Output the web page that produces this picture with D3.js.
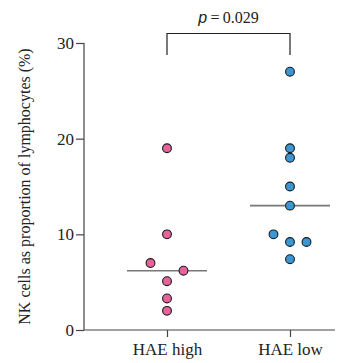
<!DOCTYPE html>
<html>
<head>
<meta charset="utf-8">
<script src="https://cdn.jsdelivr.net/npm/d3@7"></script>
<style>
  body { margin: 0; background: #fff; }
</style>
</head>
<body>
<div id="chart"></div>
<script>
const width = 364, height = 363;
const serif = "'Liberation Serif', 'Times New Roman', Times, serif";

// data
const groups = ["HAE high", "HAE low"];
const highValues = [19, 10, 7, 6.2, 5.1, 3.3, 2.0];
const highSide = [0, 0, -1, 1, 0, 0, 0];
const lowValues = [27, 19, 18, 15, 13, 10, 9.2, 9.2, 7.4];
const lowSide = [0, 0, 0, 0, 0, -1, 0, 1, 0];
const medians = [6.2, 13];
const yTicks = [0, 10, 20, 30];
const pLabel = "0.029";

const margin = {top: 43, right: 29, bottom: 33, left: 84};

const svg = d3.select("#chart").append("svg")
    .attr("width", width)
    .attr("height", height);

const y = d3.scaleLinear()
    .domain([0, 30])
    .range([height - margin.bottom, margin.top]);

const x = d3.scalePoint()
    .domain(groups)
    .range([margin.left + 83, width - margin.right - 45]);

const colors = {"HAE high": "#e4639b", "HAE low": "#3b97d3"};

// axes
const yAxis = svg.append("g")
    .attr("transform", `translate(${margin.left},0)`)
    .call(d3.axisLeft(y).tickValues(yTicks).tickSize(8).tickPadding(2));

const xAxis = svg.append("g")
    .attr("transform", `translate(0,${height - margin.bottom})`)
    .call(d3.axisBottom(x).tickSize(7).tickPadding(6).tickSizeOuter(0));

[yAxis, xAxis].forEach(a => {
    a.attr("font-family", serif).attr("font-size", 17);
    a.selectAll("path, line").attr("stroke", "#444").attr("stroke-width", 1.2);
    a.selectAll("text").attr("fill", "#222");
});
yAxis.select(".domain").attr("d", `M-0,${y(30)}V${y(0)}`);
xAxis.select(".domain").attr("d", `M${margin.left},0H${width - margin.right}`);

// y label
svg.append("text")
    .attr("transform", `translate(30,${(y(0) + y(30)) / 2}) rotate(-90)`)
    .attr("text-anchor", "middle")
    .attr("font-family", serif)
    .attr("font-size", 16)
    .attr("fill", "#222")
    .text("NK cells as proportion of lymphocytes (%)");

// medians
const halfW = 40;
svg.selectAll(".median")
    .data(groups)
    .join("line")
    .attr("x1", d => x(d) - halfW)
    .attr("x2", d => x(d) + halfW)
    .attr("y1", (d, i) => y(medians[i]))
    .attr("y2", (d, i) => y(medians[i]))
    .attr("stroke", "#777")
    .attr("stroke-width", 1.6);

// points
const dodge = 16.5;
const points = [];
highValues.forEach((v, i) => points.push({g: "HAE high", v: v, s: highSide[i]}));
lowValues.forEach((v, i) => points.push({g: "HAE low", v: v, s: lowSide[i]}));

svg.selectAll(".dot")
    .data(points)
    .join("circle")
    .attr("cx", d => x(d.g) + d.s * dodge)
    .attr("cy", d => y(d.v))
    .attr("r", 4.4)
    .attr("fill", d => colors[d.g])
    .attr("stroke", "#1a1a1a")
    .attr("stroke-width", 1.1);

// significance bracket
const bTop = 33.5, bBottom = 55;
svg.append("path")
    .attr("d", `M${x(groups[0])},${bBottom}V${bTop}H${x(groups[1])}V${bBottom}`)
    .attr("fill", "none")
    .attr("stroke", "#222")
    .attr("stroke-width", 1.2);

const pText = svg.append("text")
    .attr("x", (x(groups[0]) + x(groups[1])) / 2)
    .attr("y", 23)
    .attr("text-anchor", "middle")
    .attr("font-family", serif)
    .attr("font-size", 16)
    .attr("fill", "#222");
pText.append("tspan")
    .attr("font-family", "'Liberation Sans', Arial, sans-serif")
    .attr("font-style", "italic")
    .attr("font-size", 16)
    .text("p");
pText.append("tspan").text("\u2009=\u2009" + pLabel);
</script>
</body>
</html>
